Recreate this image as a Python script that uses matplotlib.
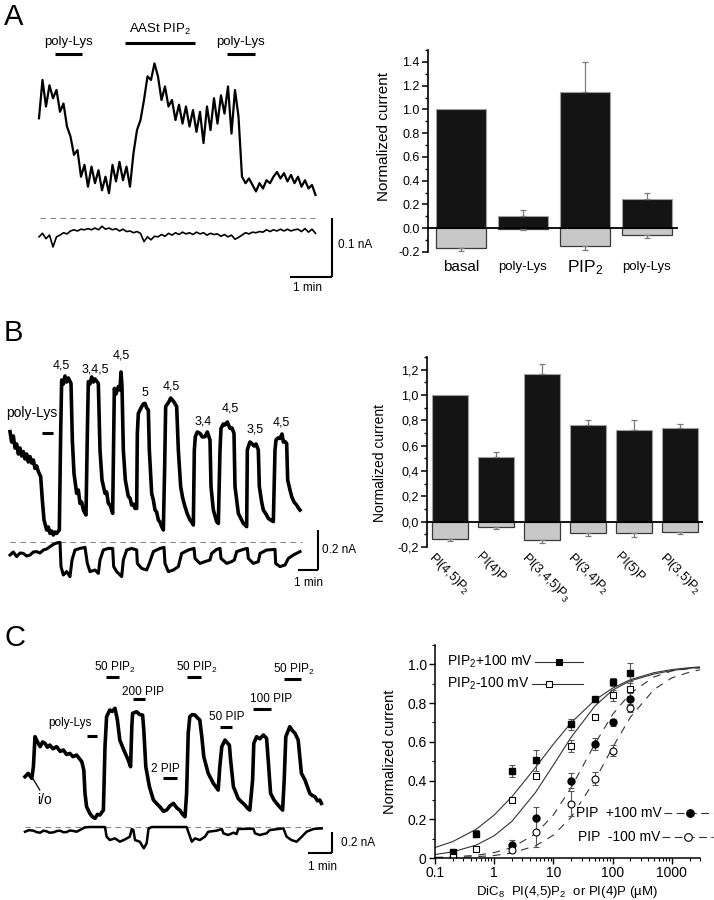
import numpy as np
import matplotlib.pyplot as plt
from matplotlib.ticker import MultipleLocator, FuncFormatter, FixedLocator

plt.rcParams["font.family"] = ["Liberation Sans", "DejaVu Sans"]
plt.rcParams["mathtext.fontset"] = "custom"
plt.rcParams["mathtext.rm"] = "Liberation Sans"
plt.rcParams["mathtext.default"] = "regular"

# ----------------------------------------
# Panel A data
# ----------------------------------------
# current traces sampled every 5 s (pA)
A_STEP_S = 5
A_UPPER_PA = [169, 234, 189, 225, 203, 217, 180, 194, 155, 138,
              107, 115, 70, 90, 53, 87, 59, 81, 47, 70,
              42, 90, 62, 95, 64, 87, 53, 110, 149, 166,
              200, 240, 234, 262, 240, 200, 223, 189, 200, 166,
              192, 160, 189, 155, 183, 146, 180, 127, 189, 149,
              203, 160, 208, 177, 223, 143, 217, 172, 70, 59,
              67, 56, 45, 59, 50, 64, 59, 70, 78, 67,
              76, 62, 73, 59, 70, 53, 64, 50, 56, 39]
A_LOWER_PA = [-32, -26, -35, -29, -49, -32, -29, -25, -27, -22,
              -20, -22, -19, -20, -18, -20, -17, -20, -14, -19,
              -17, -20, -18, -22, -19, -23, -22, -25, -23, -26,
              -40, -32, -37, -31, -32, -28, -31, -26, -29, -25,
              -28, -24, -27, -25, -28, -24, -27, -25, -29, -26,
              -28, -27, -31, -28, -32, -29, -36, -33, -29, -25,
              -27, -24, -25, -23, -24, -20, -23, -20, -22, -19,
              -22, -19, -22, -20, -19, -23, -18, -24, -19, -26]
# (label, start s, end s, label level pA)
A_APPLICATIONS = [("poly-Lys", 23, 61, 278), ("AASt PIP$_2$", 123, 223, 297),
                  ("poly-Lys", 268, 309, 278)]

A_BAR_LABELS = ["basal", "poly-Lys", "PIP$_2$", "poly-Lys"]
A_POS = [1.0, 0.10, 1.15, 0.25]
A_POS_ERR = [0.0, 0.05, 0.25, 0.05]
A_NEG = [-0.17, -0.003, -0.15, -0.06]
A_NEG_ERR = [0.02, 0.008, 0.03, 0.025]

# ----------------------------------------
# Panel B data  (time s, current pA)
# ----------------------------------------
B_UPPER = [(0, 552), (5, 500), (10, 530), (15, 470), (20, 490), (25, 440), (30, 470),
           (35, 430), (40, 452), (45, 415), (50, 440), (55, 400), (60, 427), (65, 395),
           (70, 410), (75, 368), (80, 380), (85, 352), (92, 327), (97, 210), (102, 110),
           (110, 60), (115, 75), (120, 43), (125, 55), (130, 35), (135, 50), (140, 43),
           (148, 60), (152, 543), (155, 810), (160, 790), (165, 830), (170, 800),
           (175, 820), (183, 793), (187, 510), (192, 343), (200, 243), (205, 260),
           (210, 193), (215, 200), (220, 160), (228, 135), (232, 543), (235, 802),
           (240, 790), (245, 825), (250, 800), (255, 815), (265, 793), (270, 460),
           (276, 310), (285, 243), (290, 250), (295, 193), (300, 185), (305, 160),
           (308, 143), (311, 543), (313, 768), (318, 740), (325, 777), (330, 760),
           (333, 850), (336, 777), (340, 460), (346, 310), (355, 227), (360, 220),
           (365, 185), (370, 190), (375, 168), (380, 168), (382, 543), (385, 643),
           (390, 660), (395, 677), (400, 690), (405, 693), (410, 670), (415, 660),
           (418, 460), (425, 243), (430, 210), (435, 160), (440, 150), (445, 110),
           (450, 100), (455, 77), (460, 60), (464, 377), (467, 677), (472, 690),
           (477, 702), (482, 720), (487, 710), (492, 700), (500, 677), (505, 460),
           (512, 277), (518, 220), (525, 177), (532, 140), (540, 110), (545, 100),
           (550, 85), (553, 460), (556, 527), (562, 550), (570, 543), (577, 525),
           (585, 527), (592, 550), (600, 510), (603, 277), (610, 160), (615, 130),
           (620, 102), (625, 93), (630, 460), (633, 568), (640, 590), (645, 585),
           (652, 600), (660, 568), (666, 570), (672, 543), (675, 277), (685, 143),
           (692, 120), (700, 93), (710, 77), (712, 460), (715, 477), (720, 500),
           (725, 493), (732, 480), (738, 490), (745, 460), (748, 277), (755, 200),
           (760, 160), (768, 140), (775, 118), (782, 110), (790, 102), (795, 460),
           (798, 510), (804, 520), (810, 518), (816, 540), (820, 500), (825, 502),
           (830, 493), (833, 310), (840, 260), (845, 227), (852, 200), (860, 185),
           (865, 170), (870, 160)]
B_LOWER = [(0, -65), (10, -50), (20, -73), (30, -55), (40, -57), (50, -70), (60, -65),
           (70, -50), (80, -48), (90, -55), (100, -40), (110, -35), (120, -23),
           (130, -12), (140, -5), (150, -2), (153, -123), (160, -165), (170, -148),
           (180, -173), (186, -90), (195, -40), (210, -32), (225, -27), (232, -107),
           (240, -148), (255, -140), (265, -157), (270, -90), (280, -40), (295, -32),
           (308, -32), (311, -123), (320, -148), (335, -173), (340, -90), (350, -40),
           (365, -32), (380, -40), (382, -107), (395, -132), (410, -140), (418, -107),
           (430, -48), (450, -32), (462, -27), (465, -107), (475, -148), (490, -140),
           (505, -123), (515, -57), (535, -40), (552, -32), (555, -82), (570, -107),
           (585, -98), (600, -90), (605, -57), (620, -37), (630, -32), (633, -82),
           (650, -107), (665, -98), (673, -90), (680, -48), (700, -37), (712, -32),
           (715, -82), (730, -107), (745, -98), (750, -57), (770, -40), (795, -37),
           (797, -107), (810, -123), (825, -115), (835, -82), (850, -65), (870, -48)]
# (label, time s, level pA)
B_PULSE_LABELS = [("4,5", 155, 885), ("3,4,5", 255, 860), ("4,5", 335, 935),
                  ("5", 405, 743), ("4,5", 485, 777), ("3,4", 580, 602),
                  ("4,5", 660, 668), ("3,5", 735, 560), ("4,5", 815, 597)]

B_BAR_LABELS = ["PI(4,5)P$_2$", "PI(4)P", "PI(3,4,5)P$_3$", "PI(3,4)P$_2$",
                "PI(5)P", "PI(3,5)P$_2$"]
B_POS = [1.0, 0.51, 1.165, 0.76, 0.725, 0.74]
B_POS_ERR = [0.0, 0.04, 0.08, 0.04, 0.08, 0.035]
B_NEG = [-0.14, -0.045, -0.145, -0.09, -0.09, -0.085]
B_NEG_ERR = [0.015, 0.015, 0.02, 0.02, 0.03, 0.01]

# ----------------------------------------
# Panel C data  (time s, current pA)
# ----------------------------------------
C_UPPER = [(0, 479), (8, 511), (17, 463), (21, 574), (25, 860), (29, 828), (34, 790),
           (38, 765), (44, 810), (50, 796), (56, 760), (62, 780), (70, 745), (79, 765),
           (88, 720), (96, 733), (104, 690), (112, 701), (120, 670), (129, 685),
           (142, 622), (147, 542), (150, 320), (154, 193), (162, 130), (168, 100),
           (175, 82), (181, 120), (187, 114), (196, 161), (200, 765), (204, 1050),
           (212, 1114), (218, 1100), (225, 1130), (231, 1019), (237, 828), (247, 733),
           (258, 638), (264, 574), (267, 955), (269, 1082), (279, 1098), (287, 1070),
           (294, 1066), (297, 923), (302, 574), (311, 384), (321, 257), (330, 220),
           (337, 193), (346, 150), (354, 161), (362, 200), (371, 225), (380, 180),
           (387, 161), (394, 120), (400, 98), (404, 320), (408, 892), (412, 1050),
           (418, 1070), (425, 1066), (431, 1040), (437, 1019), (442, 860), (447, 669),
           (458, 511), (471, 415), (483, 352), (487, 574), (492, 765), (500, 828),
           (506, 800), (511, 780), (514, 638), (521, 384), (533, 272), (541, 240),
           (550, 209), (556, 180), (562, 161), (569, 447), (572, 796), (579, 860),
           (587, 840), (596, 876), (604, 844), (608, 638), (614, 320), (622, 260),
           (629, 225), (637, 190), (644, 161), (648, 447), (652, 860), (662, 955),
           (668, 920), (675, 892), (683, 828), (691, 511), (700, 447), (712, 320),
           (718, 300), (725, 288), (731, 250), (737, 257), (741, 225)]
C_LOWER = [(0, -45), (10, -30), (21, -35), (30, -50), (38, -54), (46, -35), (54, -41),
           (62, -55), (71, -51), (80, -38), (88, -35), (96, -50), (104, -48),
           (112, -33), (121, -38), (129, -45), (137, -29), (150, -3), (162, 0),
           (200, 0), (204, -92), (212, -124), (225, -108), (237, -140), (250, -118),
           (262, -92), (267, -19), (271, -29), (275, -124), (287, -140), (297, -203),
           (304, -156), (309, -13), (317, 0), (404, 0), (411, -76), (417, -140),
           (425, -108), (437, -124), (450, -92), (458, -45), (479, -35), (492, -19),
           (496, -60), (508, -76), (521, -54), (529, -67), (533, -19), (571, -16),
           (575, -60), (587, -76), (604, -60), (612, -29), (646, -13), (654, -92),
           (666, -124), (679, -140), (692, -92), (704, -45), (721, -19), (742, -13)]
# (label, start s, end s, bar level pA, text time s, text level pA)
C_APPLICATIONS = [("50 PIP$_2$", 202, 236, 1431, 225, 1520),
                  ("200 PIP", 269, 301, 1215, 296, 1288),
                  ("poly-Lys", 154, 179, 869, 112, 993),
                  ("2 PIP", 346, 379, 469, 350, 552),
                  ("50 PIP$_2$", 404, 441, 1425, 429, 1520),
                  ("50 PIP", 487, 518, 955, 504, 1044),
                  ("100 PIP", 571, 614, 1120, 616, 1215),
                  ("50 PIP$_2$", 647, 689, 1406, 671, 1501)]

# dose-response (µM, normalized current)
CONC_PIP2 = [0.2, 0.5, 2, 5, 20, 50, 100, 200]
PIP2_POS = [0.03, 0.126, 0.45, 0.505, 0.69, 0.82, 0.91, 0.955]
PIP2_POS_ERR = [0.01, 0.02, 0.03, 0.055, 0.03, 0.01, 0.02, 0.05]
PIP2_NEG = [0.005, 0.048, 0.30, 0.425, 0.58, 0.73, 0.84, 0.875]
PIP2_NEG_ERR = [0.005, 0.01, 0.01, 0.01, 0.03, 0.01, 0.03, 0.04]
CONC_PIP = [2, 5, 20, 50, 100, 200]
PIP_POS = [0.065, 0.205, 0.40, 0.59, 0.70, 0.82]
PIP_POS_ERR = [0.03, 0.06, 0.04, 0.03, 0.02, 0.03]
PIP_NEG = [0.04, 0.135, 0.28, 0.41, 0.555, 0.775]
PIP_NEG_ERR = [0.01, 0.08, 0.065, 0.035, 0.03, 0.02]

FIT_X = [0.1, 0.2, 0.5, 1, 2, 5, 10, 20, 50, 100, 200, 500, 1000, 2000, 3000]
FIT_PIP2_POS = [0.054, 0.085, 0.149, 0.222, 0.317, 0.468, 0.588, 0.699, 0.815,
                0.877, 0.921, 0.957, 0.973, 0.983, 0.987]
FIT_PIP2_NEG = [0.018, 0.032, 0.067, 0.115, 0.190, 0.339, 0.480, 0.624, 0.784,
                0.867, 0.915, 0.950, 0.968, 0.980, 0.984]
FIT_PIP_POS = [0.003, 0.006, 0.014, 0.028, 0.054, 0.125, 0.222, 0.364, 0.588,
               0.741, 0.851, 0.935, 0.966, 0.978, 0.982]
FIT_PIP_NEG = [0.001, 0.003, 0.007, 0.013, 0.026, 0.063, 0.118, 0.211, 0.40,
               0.571, 0.727, 0.87, 0.93, 0.960, 0.972]

W, H = 714, 900
fig = plt.figure(figsize=(W / 100, H / 100), dpi=100)


def box(x0, y0, x1, y1):
    ax = fig.add_axes([x0 / W, 1 - y1 / H, (x1 - x0) / W, (y1 - y0) / H])
    ax.patch.set_alpha(0)
    return ax


def trace_axes(x0, y0, x1, y1, xlim, ylim):
    ax = box(x0, y0, x1, y1)
    ax.set_xlim(*xlim)
    ax.set_ylim(*ylim)
    ax.axis("off")
    return ax


def scale_bar(ax, t_end, i_top, dt, di, v_label, t_label_pos, v_label_pos):
    ax.plot([t_end, t_end], [i_top, i_top - di], color="black", lw=1.5,
            solid_capstyle="butt")
    ax.plot([t_end - dt, t_end], [i_top - di, i_top - di], color="black",
            lw=1.5, solid_capstyle="butt")
    ax.text(*v_label_pos, v_label, fontsize=8.5, va="center", ha="left")
    ax.text(*t_label_pos, "1 min", fontsize=8.5, va="center", ha="center")


def style_bar_axes(ax, ylim, comma=False):
    ax.set_ylim(*ylim)
    for side in ("top", "right", "bottom"):
        ax.spines[side].set_visible(False)
    ax.spines["left"].set_linewidth(1.2)
    ax.set_xticks([])
    ax.yaxis.set_major_locator(FixedLocator(np.round(np.arange(-0.2, ylim[1], 0.2), 1)))
    ax.yaxis.set_minor_locator(MultipleLocator(0.1))
    if comma:
        fmt = FuncFormatter(lambda v, p: f"{v:.1f}".replace(".", ","))
    else:
        fmt = FuncFormatter(lambda v, p: f"{v:.1f}")
    ax.yaxis.set_major_formatter(fmt)
    ax.tick_params(axis="y", which="major", length=4, width=1.1, labelsize=9, pad=2)
    ax.tick_params(axis="y", which="minor", length=2.5, width=1.0)


def draw_bars(ax, pos, pos_err, neg, neg_err, width):
    x = np.arange(len(pos))
    ax.bar(x, pos, width=width, color="#141414", edgecolor="#a0a0a0", lw=0.8, zorder=2)
    ax.bar(x, neg, width=width, color="#c8c8c8", edgecolor="#3a3a3a", lw=0.9, zorder=2)
    err_kw = dict(fmt="none", ecolor="#7a7a7a", elinewidth=0.9, capsize=2.5,
                  capthick=0.9, zorder=3)
    # only bars with a measured error get an error bar
    for xi, v, e in zip(x, pos, pos_err):
        if e > 0:
            ax.errorbar([xi], [v], yerr=[[0], [e]], **err_kw)
    for xi, v, e in zip(x, neg, neg_err):
        if e > 0:
            ax.errorbar([xi], [v], yerr=[[e], [0]], **err_kw)
    ax.axhline(0, color="black", lw=1.3, zorder=4)
    return x


# ----------------------------------------
# A - trace
# ----------------------------------------
axAt = trace_axes(0, 20, 357, 300, (-55.7, 454.3), (-139, 335.6))
tA = np.arange(len(A_UPPER_PA)) * A_STEP_S
axAt.plot([1, 394], [0, 0], color="#888888", lw=0.8, dashes=(5, 4))
axAt.plot(tA, A_UPPER_PA, color="black", lw=1.6)
axAt.plot(tA, A_LOWER_PA, color="black", lw=1.2)
for label, t0, t1, level in A_APPLICATIONS:
    axAt.plot([t0, t1], [level, level], color="black", lw=2.2, solid_capstyle="butt")
    axAt.text((t0 + t1) / 2, level + 10, label, fontsize=9.5, ha="center", va="bottom")
scale_bar(axAt, 419, 0, 60, 100, "0.1 nA", (383, -119), (427, -46))

# ----------------------------------------
# A - bars
# ----------------------------------------
axA = box(428, 50, 678, 252)
xA = draw_bars(axA, A_POS, A_POS_ERR, A_NEG, A_NEG_ERR, 0.8)
axA.set_xlim(-0.53, 3.5)
style_bar_axes(axA, (-0.2, 1.5))
axA.set_ylabel("Normalized current", fontsize=11)
axA.yaxis.set_label_coords(-0.15, 0.57)
for i, label in zip(xA, A_BAR_LABELS):
    size = 12.5 if "PIP" in label else (11 if label == "basal" else 9.5)
    axA.text(i, -0.33, label, fontsize=size, ha="center", va="center")

# ----------------------------------------
# B - trace
# ----------------------------------------
axBt = trace_axes(0, 300, 357, 590, (-30, 1041), (-240, 1210))
axBt.plot([0, 875], [0, 0], color="#888888", lw=0.8, dashes=(5, 4))
tb, ib = zip(*B_UPPER)
axBt.plot(tb, ib, color="black", lw=2.6)
tb, ib = zip(*B_LOWER)
axBt.plot(tb, ib, color="black", lw=2.2)
axBt.plot([96, 129], [545, 545], color="black", lw=2.2, solid_capstyle="butt")
axBt.text(66, 645, "poly-Lys", fontsize=10, ha="center", va="center")
for label, t, level in B_PULSE_LABELS:
    axBt.text(t, level, label, fontsize=9, ha="center", va="center")
scale_bar(axBt, 924, 60, 60, 200, "0.2 nA", (894, -205), (936, -40))

# ----------------------------------------
# B - bars
# ----------------------------------------
axB = box(427, 357, 703, 547)
xB = draw_bars(axB, B_POS, B_POS_ERR, B_NEG, B_NEG_ERR, 0.78)
axB.set_xlim(-0.49, 5.49)
style_bar_axes(axB, (-0.2, 1.3), comma=True)
axB.set_ylabel("Normalized current", fontsize=10)
axB.yaxis.set_label_coords(-0.145, 0.44)
for i, label in zip(xB, B_BAR_LABELS):
    axB.text(i - 0.28, -0.225, label, fontsize=9, rotation=-45, ha="left", va="top",
             rotation_mode="anchor")

# ----------------------------------------
# C - trace
# ----------------------------------------
axCt = trace_axes(0, 620, 357, 900, (-62.5, 830), (-695, 1971))
axCt.plot([0, 742], [0, 0], color="#888888", lw=0.8, dashes=(5, 4))
tc, ic = zip(*C_UPPER)
axCt.plot(tc, ic, color="black", lw=2.6)
tc, ic = zip(*C_LOWER)
axCt.plot(tc, ic, color="black", lw=1.8)
for label, t0, t1, level, tt, lt in C_APPLICATIONS:
    axCt.plot([t0, t1], [level, level], color="black", lw=2.2, solid_capstyle="butt")
    axCt.text(tt, lt, label, fontsize=8.5, ha="center", va="center")
axCt.plot([17, 37], [479, 352], color="black", lw=0.9)
axCt.text(50, 257, "i/o", fontsize=10, ha="center", va="center")
scale_bar(axCt, 767.5, -48, 60, 200, "0.2 nA", (745, -381), (790, -148))

# ----------------------------------------
# C - dose response
# ----------------------------------------
axC = box(435, 645, 700, 858)
axC.set_xscale("log")
axC.set_xlim(0.1, 3000)
axC.set_ylim(0, 1.1)
for side in ("top", "right"):
    axC.spines[side].set_visible(False)
for side in ("left", "bottom"):
    axC.spines[side].set_linewidth(1.1)

axC.plot(FIT_X, FIT_PIP2_POS, color="#333333", lw=0.8)
axC.plot(FIT_X, FIT_PIP2_NEG, color="#333333", lw=0.8)
axC.plot(FIT_X, FIT_PIP_POS, color="#333333", lw=0.8, dashes=(7, 6))
axC.plot(FIT_X, FIT_PIP_NEG, color="#333333", lw=0.8, dashes=(7, 6))

err_kw = dict(ecolor="#555555", elinewidth=0.8, capsize=2, capthick=0.8, ls="none")
axC.errorbar(CONC_PIP2, PIP2_POS, yerr=PIP2_POS_ERR, marker="s", ms=4.5,
             mfc="black", mec="black", **err_kw)
axC.errorbar(CONC_PIP2, PIP2_NEG, yerr=PIP2_NEG_ERR, marker="s", ms=4.5,
             mfc="white", mec="black", mew=0.8, **err_kw)
axC.errorbar(CONC_PIP, PIP_POS, yerr=PIP_POS_ERR, marker="o", ms=5,
             mfc="black", mec="black", **err_kw)
axC.errorbar(CONC_PIP, PIP_NEG, yerr=PIP_NEG_ERR, marker="o", ms=5,
             mfc="white", mec="black", mew=0.8, **err_kw)

axC.set_xticks([0.1, 1, 10, 100, 1000])
axC.set_xticklabels(["0.1", "1", "10", "100", "1000"])
axC.set_yticks([0, 0.2, 0.4, 0.6, 0.8, 1.0])
axC.set_yticklabels(["0", "0.2", "0.4", "0.6", "0.8", "1.0"])
axC.yaxis.set_minor_locator(MultipleLocator(0.1))
axC.tick_params(which="major", length=4, width=1.0, labelsize=10, pad=2)
axC.tick_params(which="minor", length=2.5, width=0.8)
axC.set_ylabel("Normalized current", fontsize=10.5)
axC.yaxis.set_label_coords(-0.143, 0.5)
axC.set_xlabel("DiC$_8$  PI(4,5)P$_2$  or PI(4)P (\u00b5M)", fontsize=9.5, labelpad=3)

# hand-made legend entries
legend_rows = [
    ("PIP$_2$+100 mV", 0.370, 0.920, 0.377, 0.558, 0.468, "s", "black", None),
    ("PIP$_2$-100 mV", 0.358, 0.817, 0.366, 0.558, 0.430, "s", "white", None),
    ("PIP  +100 mV", 0.857, 0.211, 0.864, 1.049, 0.962, "o", "black", (7, 4)),
    ("PIP  -100 mV", 0.849, 0.099, 0.857, 1.049, 0.955, "o", "white", (7, 4)),
]
for text, tx, ty, l0, l1, mx, marker, face, dash in legend_rows:
    axC.text(tx, ty, text, transform=axC.transAxes, fontsize=10, ha="right", va="center",
             bbox=dict(boxstyle="square,pad=0.05", fc="white", ec="none"))
    line_kw = dict(color="#333333", lw=0.8, transform=axC.transAxes, clip_on=False)
    if dash:
        line_kw["dashes"] = dash
    axC.plot([l0, l1], [ty, ty], **line_kw)
    axC.plot([mx], [ty], marker=marker, ms=5.5 if marker == "o" else 5,
             mfc=face, mec="black", mew=0.8, ls="none",
             transform=axC.transAxes, clip_on=False)

# ----------------------------------------
# Panel letters
# ----------------------------------------
for letter, y in (("A", 3), ("B", 319), ("C", 624)):
    fig.text(4 / W, 1 - y / H, letter, fontsize=21, va="top", ha="left")

fig.savefig("out.png", dpi=100)
